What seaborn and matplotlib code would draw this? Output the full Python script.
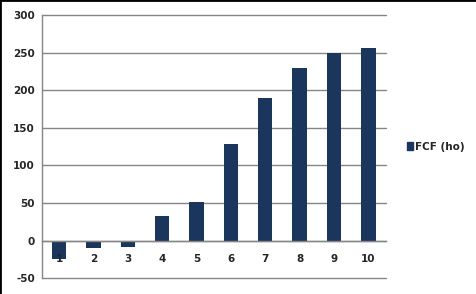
import matplotlib
matplotlib.use("Agg")
import matplotlib.pyplot as plt
import seaborn as sns
import pandas as pd
from matplotlib.patches import Patch
from matplotlib.lines import Line2D

categories = ["1", "2", "3", "4", "5", "6", "7", "8", "9", "10"]
values = [-25, -10, -9, 32, 51, 129, 189, 229, 250, 256]
series_name = "FCF (ho)"
yticks = [-50, 0, 50, 100, 150, 200, 250, 300]

bar_color = "#1b365d"
grid_color = "#868686"

df = pd.DataFrame({"cat": categories, "val": values})

sns.set_theme(style="white")
plt.rcParams['font.family'] = ['DejaVu Sans']

fig = plt.figure(figsize=(4.76, 2.94), dpi=100)
ax = fig.add_axes([0.088, 0.054, 0.722, 0.895])

sns.barplot(data=df, x="cat", y="val", color=bar_color, width=0.42,
            saturation=1, ax=ax, order=categories, linewidth=0)

ax.set_ylim(-50, 300)
ax.set_xlim(-0.5, len(categories) - 0.5)
ax.set_yticks(yticks)
ax.set_yticklabels([str(t) for t in yticks], fontsize=7.5, fontweight="bold")
ax.set_xlabel("")
ax.set_ylabel("")
ax.set_axisbelow(False)

for t in yticks:
    ax.axhline(t, color=grid_color, lw=1.0, zorder=0, clip_on=False)

for side in ["top", "right"]:
    ax.spines[side].set_visible(False)
ax.spines["left"].set_color(grid_color)
ax.spines["left"].set_linewidth(1.0)
ax.spines["bottom"].set_position(("data", 0))
ax.spines["bottom"].set_color(grid_color)
ax.spines["bottom"].set_linewidth(1.0)

ax.tick_params(axis="y", length=3, color=grid_color, pad=2)
ax.tick_params(axis="x", which="major", length=0, pad=10, labelsize=7.5)
for lab in ax.get_xticklabels():
    lab.set_fontweight("bold")
ax.set_xticks([i + 0.5 for i in range(-1, len(categories))], minor=True)
ax.tick_params(axis="x", which="minor", length=4, color=grid_color, direction="out")

handles = [Patch(facecolor=bar_color, edgecolor=bar_color, label=series_name)]
fig.legend(handles=handles, loc="center left", bbox_to_anchor=(0.835, 0.50),
           frameon=False, handlelength=0.6, handleheight=0.8,
           handletextpad=0.2, prop={"size": 7.5, "weight": "bold"})

fig.add_artist(Line2D([0, 0], [0, 1], transform=fig.transFigure, color="black", lw=2))
fig.add_artist(Line2D([0, 1], [1, 1], transform=fig.transFigure, color="black", lw=2))

fig.savefig("out.png", dpi=100)
